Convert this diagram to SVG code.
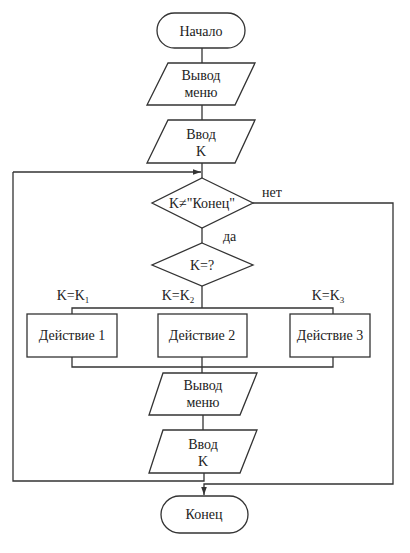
<svg xmlns="http://www.w3.org/2000/svg" width="410" height="553" viewBox="0 0 410 553">
<defs>
<style>
.s{fill:#fff;stroke:#333;stroke-width:1.3}
.c{fill:none;stroke:#333;stroke-width:1.3}
text{font-size:14px;fill:#222;text-anchor:middle}
.l{text-anchor:start}
</style>
<marker id="a" viewBox="0 0 10 10" refX="10" refY="5" markerWidth="8" markerHeight="8" orient="auto" markerUnits="userSpaceOnUse"><path d="M0,1.5 L10,5 L0,8.5 Z" fill="#333"/></marker>
</defs>
<rect width="410" height="553" fill="#fff"/>
<g id="connectors">
<path class="c" d="M202,48 V63"/>
<path class="c" d="M202,105 V120"/>
<path class="c" d="M202,163 V178"/>
<path class="c" d="M13,172 H201" marker-end="url(#a)"/>
<path class="c" d="M202,228 V243"/>
<path class="c" d="M202,286 V308"/>
<path class="c" d="M72,314 V308 H333 V314"/>
<path class="c" d="M72,357 V367 H333 V357"/>
<path class="c" d="M202,357 V373"/>
<path class="c" d="M203,415 V430"/>
<path class="c" d="M204,473 V481 H13 V172"/>
<path class="c" d="M253,203 H393 V484 H204 V495" marker-end="url(#a)"/>
</g>
<g font-family="'Liberation Serif', 'Times New Roman', serif">
<g id="start"><rect class="s" x="157" y="13" width="88" height="35" rx="17.5"/><text x="201" y="36">Начало</text></g>
<g id="out1"><polygon class="s" points="168,63 255,63 235,105 147,105"/><text x="201" y="80">Вывод</text><text x="201" y="97">меню</text></g>
<g id="in1"><polygon class="s" points="168,120 255,120 235,163 147,163"/><text x="201" y="139">Ввод</text><text x="201" y="156">K</text></g>
<g id="cond1"><polygon class="s" points="202,178 253,203 202,228 152,203"/><text x="202" y="208">K≠"Конец"</text></g>
<text class="l" x="262" y="197">нет</text>
<text class="l" x="223" y="241">да</text>
<g id="cond2"><polygon class="s" points="202,243 253,265 202,286 152,265"/><text x="202" y="270">K=?</text></g>
<text x="73" y="300">K=K<tspan font-size="9" dy="3">1</tspan></text>
<text x="178" y="300">K=K<tspan font-size="9" dy="3">2</tspan></text>
<text x="328" y="300">K=K<tspan font-size="9" dy="3">3</tspan></text>
<g id="act1"><rect class="s" x="27" y="314" width="90" height="43"/><text x="72" y="340">Действие 1</text></g>
<g id="act2"><rect class="s" x="158" y="314" width="89" height="43"/><text x="202" y="340">Действие 2</text></g>
<g id="act3"><rect class="s" x="290" y="314" width="80" height="43"/><text x="330" y="340">Действие 3</text></g>
<g id="out2"><polygon class="s" points="163,373 257,373 240,415 149,415"/><text x="203" y="390">Вывод</text><text x="203" y="407">меню</text></g>
<g id="in2"><polygon class="s" points="163,430 257,430 240,473 149,473"/><text x="203" y="449">Ввод</text><text x="203" y="466">K</text></g>
<g id="end"><rect class="s" x="161" y="496" width="87" height="37" rx="18.5"/><text x="204" y="519">Конец</text></g>
</g>
</svg>
